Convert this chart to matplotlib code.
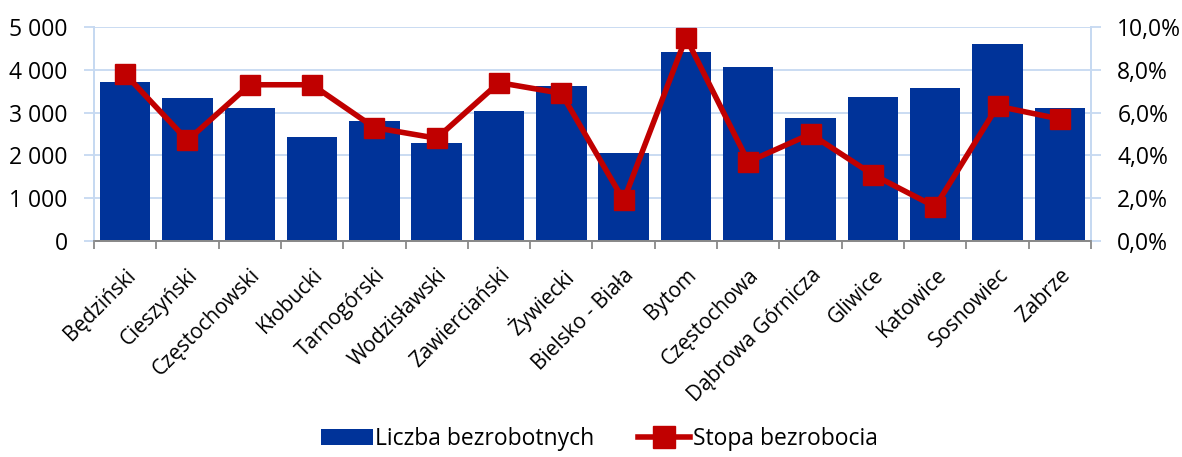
import matplotlib
matplotlib.use("Agg")
import matplotlib.pyplot as plt
import matplotlib.transforms as mtransforms
import numpy as np
from matplotlib.ticker import FuncFormatter, FixedLocator
from matplotlib.lines import Line2D
from matplotlib.patches import Patch

plt.rcParams['font.family'] = ['Open Sans', 'DejaVu Sans']

categories = ["Będziński", "Cieszyński", "Częstochowski", "Kłobucki", "Tarnogórski",
              "Wodzisławski", "Zawierciański", "Żywiecki", "Bielsko - Biała", "Bytom",
              "Częstochowa", "Dąbrowa Górnicza", "Gliwice", "Katowice", "Sosnowiec", "Zabrze"]
unemployed = [3710, 3330, 3115, 2440, 2795, 2285, 3030, 3630, 2050, 4410,
              4060, 2875, 3365, 3575, 4610, 3100]
rate = [7.8, 4.7, 7.3, 7.3, 5.3, 4.8, 7.4, 6.9, 1.9, 9.5,
        3.7, 5.0, 3.1, 1.6, 6.3, 5.7]
label_bars = "Liczba bezrobotnych"
label_line = "Stopa bezrobocia"

bar_color = "#003399"
line_color = "#C00000"
grid_color = "#C6D9F1"

fig = plt.figure(figsize=(11.82, 4.57), dpi=100)
ax = fig.add_axes([0.0795, 0.4726, 0.8435, 0.4684])
ax2 = ax.twinx()

x = np.arange(len(categories))
ax.bar(x, unemployed, width=0.81, color=bar_color, zorder=2)
ax.set_xlim(-0.5, len(categories) - 0.5)
ax.set_ylim(0, 5000)
ax.set_yticks(np.arange(0, 5001, 1000))
ax.yaxis.set_major_formatter(FuncFormatter(lambda v, p: f"{int(v):,}".replace(",", " ")))
ax.grid(axis='y', color=grid_color, linewidth=1.3, zorder=0)
ax.set_axisbelow(True)

ax2.plot(x, rate, color=line_color, linewidth=4, marker='s', markersize=15, zorder=3)
ax2.set_ylim(0, 10)
ax2.set_yticks(np.arange(0, 10.01, 2))
ax2.yaxis.set_major_formatter(FuncFormatter(lambda v, p: f"{v:.1f}%".replace(".", ",")))

# x ticks at category boundaries, labels at centers
ax.xaxis.set_major_locator(FixedLocator(np.arange(-0.5, len(categories), 1.0)))
ax.xaxis.set_major_formatter(FuncFormatter(lambda v, p: ""))
ax.xaxis.set_minor_locator(FixedLocator(x))
labels = ax.set_xticklabels(categories, minor=True, rotation=45, ha='right', va='top',
                            rotation_mode='anchor', fontsize=15)
offset = mtransforms.ScaledTranslation(-5 / 100, 0, fig.dpi_scale_trans)
for lab in ax.get_xticklabels(minor=True):
    lab.set_transform(lab.get_transform() + offset)
ax.tick_params(axis='x', which='major', length=6, width=1.3, color='#898989', direction='out')
ax.tick_params(axis='x', which='minor', length=0, pad=17)

ax.tick_params(axis='y', length=7, width=1.3, color=grid_color, labelsize=16.5, pad=12)
ax2.tick_params(axis='y', length=7, width=1.3, color=grid_color, labelsize=16.5, pad=12)

for a in (ax, ax2):
    a.spines['top'].set_visible(False)
    a.spines['left'].set_color(grid_color)
    a.spines['right'].set_color(grid_color)
    a.spines['left'].set_linewidth(1.3)
    a.spines['right'].set_linewidth(1.3)
    a.spines['bottom'].set_color('#898989')
    a.spines['bottom'].set_linewidth(1.3)

handles = [Patch(facecolor=bar_color, edgecolor='none'),
           Line2D([0], [0], color=line_color, linewidth=4, marker='s', markersize=16)]
fig.legend(handles, [label_bars, label_line], loc='center', bbox_to_anchor=(0.507, 0.039),
           ncol=2, frameon=False, fontsize=16.5, handlelength=2.27, handletextpad=0.12,
           columnspacing=1.9, handleheight=0.72, borderpad=0)

fig.savefig("out.png", dpi=100)
